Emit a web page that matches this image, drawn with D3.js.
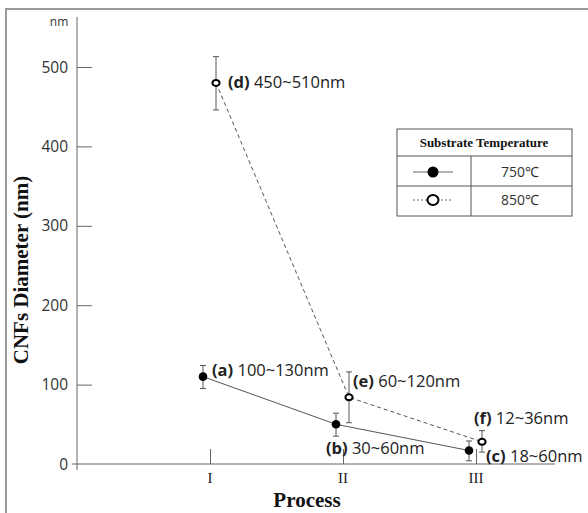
<!DOCTYPE html>
<html><head><meta charset="utf-8">
<script src="https://cdn.jsdelivr.net/npm/d3@7"></script>
<style>body{margin:0;background:#fff}svg{display:block}</style>
</head><body>
<script>
const categories = ["I", "II", "III"];
const yTicks = [0, 100, 200, 300, 400, 500];
const s750 = [110, 50, 17];
const s750Low = [95, 35, 4];
const s750High = [124, 64, 29];
const s850 = [480, 84, 28];
const s850Low = [446, 52, 15];
const s850High = [513, 116, 42];
const labelTags = ["(a)", "(b)", "(c)", "(d)", "(e)", "(f)"];
const labelTexts = [" 100~130nm", " 30~60nm", " 18~60nm", " 450~510nm", " 60~120nm", " 12~36nm"];
const legendNames = ["750℃", "850℃"];

const W = 588, H = 513;
const svg = d3.select("body").append("svg").attr("width", W).attr("height", H);

// outer frame
svg.append("path").attr("d", "M6,513 L6,9 L588,9").attr("fill", "none").attr("stroke", "#9a9a9a").attr("stroke-width", 2);

const x = d3.scalePoint().domain(categories).range([210, 476]);
const y = d3.scaleLinear().domain([0, 500]).range([464, 67]);
const axisColor = "#666";

// y axis line
svg.append("line").attr("x1", 77).attr("x2", 77).attr("y1", 17).attr("y2", 470).attr("stroke", axisColor);
// x axis line
svg.append("line").attr("x1", 72).attr("x2", 555).attr("y1", y(0)).attr("y2", y(0)).attr("stroke", axisColor);

const yAxis = d3.axisRight(y).tickValues(yTicks.filter(d => d > 0)).tickSize(15).tickFormat("");
const ya = svg.append("g").attr("transform", "translate(77,0)").call(yAxis);
ya.select(".domain").remove();
ya.selectAll("line").attr("stroke", axisColor);

svg.selectAll("text.ytl").data(yTicks).join("text")
  .attr("x", 68).attr("y", d => y(d) + 5.5).attr("text-anchor", "end")
  .attr("font-family", "Open Sans").attr("font-size", 15.5).attr("fill", "#333")
  .text(d => d);
svg.append("text").attr("x", 59).attr("y", 26).attr("text-anchor", "middle")
  .attr("font-family", "Open Sans").attr("font-size", 12).attr("fill", "#333").text("nm");

const xAxis = d3.axisTop(x).tickSize(15).tickFormat("");
const xa = svg.append("g").attr("transform", `translate(0,${y(0)})`).call(xAxis);
xa.select(".domain").remove();
xa.selectAll("line").attr("stroke", axisColor);
svg.selectAll("text.xtl").data(categories).join("text")
  .attr("x", d => x(d)).attr("y", 483).attr("text-anchor", "middle")
  .attr("font-family", "Liberation Serif").attr("font-size", 15).attr("fill", "#222")
  .text(d => d);

svg.append("text").attr("x", 307).attr("y", 507).attr("text-anchor", "middle")
  .attr("font-family", "Liberation Serif").attr("font-weight", "bold").attr("font-size", 21).attr("fill", "#111")
  .text("Process");
svg.append("text").attr("transform", "translate(28,270) rotate(-90)").attr("text-anchor", "middle")
  .attr("font-family", "Liberation Serif").attr("font-weight", "bold").attr("font-size", 21).attr("fill", "#111")
  .text("CNFs Diameter (nm)");

const off750 = -7, off850 = 6;
const lineGen = (off) => d3.line().x((d, i) => x(categories[i]) + off).y(d => y(d));

svg.append("path").datum(s750).attr("d", lineGen(off750)).attr("fill", "none").attr("stroke", "#555").attr("stroke-width", 1);
svg.append("path").datum(s850).attr("d", lineGen(off850)).attr("fill", "none").attr("stroke", "#555").attr("stroke-width", 1).attr("stroke-dasharray", "4,3");

function errBars(low, high, off) {
  const g = svg.append("g").attr("stroke", "#555").attr("stroke-width", 1);
  categories.forEach((c, i) => {
    const cx = x(c) + off;
    g.append("line").attr("x1", cx).attr("x2", cx).attr("y1", y(low[i])).attr("y2", y(high[i]));
    g.append("line").attr("x1", cx - 3).attr("x2", cx + 3).attr("y1", y(low[i])).attr("y2", y(low[i]));
    g.append("line").attr("x1", cx - 3).attr("x2", cx + 3).attr("y1", y(high[i])).attr("y2", y(high[i]));
  });
}
errBars(s750Low, s750High, off750);
errBars(s850Low, s850High, off850);

svg.selectAll("circle.p750").data(s750).join("circle")
  .attr("cx", (d, i) => x(categories[i]) + off750).attr("cy", d => y(d)).attr("r", 4.3).attr("fill", "#000");
svg.selectAll("ellipse.p850").data(s850).join("ellipse")
  .attr("cx", (d, i) => x(categories[i]) + off850).attr("cy", d => y(d)).attr("rx", 3.6).attr("ry", 3)
  .attr("fill", "#fff").attr("stroke", "#000").attr("stroke-width", 2);

// annotations
const labelAnchors = [
  [s750, 0, off750, 9, -1], [s750, 1, off750, -10, 30], [s750, 2, off750, 17, 11],
  [s850, 0, off850, 12, 5], [s850, 1, off850, 4, -10], [s850, 2, off850, -8, -18]
];
labelTags.forEach((tag, k) => {
  const [ser, i, off, dx, dy] = labelAnchors[k];
  const t = svg.append("text").attr("x", x(categories[i]) + off + dx).attr("y", y(ser[i]) + dy)
    .attr("font-family", "Open Sans").attr("font-size", 16.5).attr("fill", "#222");
  t.append("tspan").attr("font-weight", "bold").text(tag);
  t.append("tspan").text(labelTexts[k]);
});

// legend table
const lg = svg.append("g");
lg.append("rect").attr("x", 397).attr("y", 129).attr("width", 175).attr("height", 87).attr("fill", "#fff").attr("stroke", "#555");
lg.append("line").attr("x1", 397).attr("x2", 572).attr("y1", 156).attr("y2", 156).attr("stroke", "#555");
lg.append("line").attr("x1", 397).attr("x2", 572).attr("y1", 186).attr("y2", 186).attr("stroke", "#555");
lg.append("line").attr("x1", 471).attr("x2", 471).attr("y1", 156).attr("y2", 216).attr("stroke", "#555");
lg.append("text").attr("x", 484).attr("y", 147).attr("text-anchor", "middle")
  .attr("font-family", "Liberation Serif").attr("font-weight", "bold").attr("font-size", 13).attr("fill", "#111")
  .text("Substrate Temperature");
const rowsY = [172, 200];
legendNames.forEach((n, k) => {
  lg.append("line").attr("x1", 413).attr("x2", 453).attr("y1", rowsY[k]).attr("y2", rowsY[k])
    .attr("stroke", "#666").attr("stroke-dasharray", k === 1 ? "2,2" : null);
  if (k === 0) lg.append("circle").attr("cx", 433).attr("cy", rowsY[k]).attr("r", 5.5).attr("fill", "#000");
  else lg.append("ellipse").attr("cx", 433).attr("cy", rowsY[k]).attr("rx", 5.5).attr("ry", 5).attr("fill", "#fff").attr("stroke", "#000").attr("stroke-width", 2);
  lg.append("text").attr("x", 520).attr("y", rowsY[k] + 5).attr("text-anchor", "middle")
    .attr("font-family", "Open Sans").attr("font-size", 14).attr("fill", "#333").text(n);
});
</script>
</body></html>
